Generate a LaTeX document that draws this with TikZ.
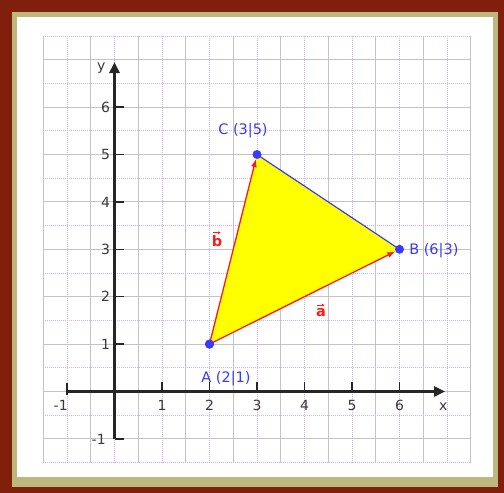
\documentclass[tikz,border=0pt]{standalone}
\usepackage{fontspec}
\setmainfont{DejaVu Sans}
\usetikzlibrary{arrows.meta}
\definecolor{frameBrown}{HTML}{80200C}
\definecolor{frameKhaki}{HTML}{BDB97E}
\definecolor{gridGray}{HTML}{C4C4C4}
\definecolor{gridDot}{HTML}{D0B4E4}
\definecolor{ptBlue}{HTML}{3A3AFF}
\definecolor{vecRed}{HTML}{FF1A1A}
\definecolor{triYellow}{HTML}{FFFF00}
\definecolor{lblGray}{HTML}{3A3A3A}
\begin{document}
\begin{tikzpicture}[x=1pt,y=1pt,
  solidgrid/.style={gridGray,line width=1pt},
  dotgrid/.style={gridDot,line width=1pt,dash pattern=on 1pt off 1pt},
  axisline/.style={line width=3.2pt,black!85,-{Triangle[length=11pt,width=10pt]}},
  tickline/.style={line width=1.3pt,black!85},
  ticklbl/.style={text=lblGray,font=\fontsize{14}{16}\selectfont,inner sep=1pt},
  ptlbl/.style={text=ptBlue,font=\fontsize{14.5}{17}\selectfont,inner sep=1pt},
  veclbl/.style={text=vecRed,font=\fontsize{14.5}{17}\selectfont\bfseries,inner sep=0pt},
  vecarrow/.style={vecRed,line width=1.3pt,-{Latex[length=8pt,width=6pt]}},
  smallarrow/.style={vecRed,line width=0.9pt,-{Latex[length=3pt,width=3pt]}},
  ptdot/.style={circle,fill=ptBlue,inner sep=0pt,minimum size=9pt}
]
\useasboundingbox (0,0) rectangle (504,-493);
\fill[frameBrown] (0,0) rectangle (504,-493);
\fill[frameKhaki] (12,-12) rectangle (498,-487);
\fill[white] (17,-17) rectangle (493,-477);
\begin{scope}[shift={(114.5pt,-391.5pt)},x=47.5pt,y=47.4pt]
  % grid
  \foreach \i in {-1,...,7} \draw[dotgrid] (\i,-1.5) -- (\i,7.5);
  \foreach \j in {-1.5,-0.5,...,7.5} \draw[dotgrid] (-1.5,\j) -- (7.5,\j);
  \foreach \i in {-1.5,-0.5,...,7.5} \draw[solidgrid] (\i,-1.5) -- (\i,7.5);
  \foreach \j in {-1,...,7} \draw[solidgrid] (-1.5,\j) -- (7.5,\j);
  % axes
  \coordinate (xs) at (-1,0);
  \coordinate (xe) at (6.96,0);
  \coordinate (ys) at (0,-1);
  \coordinate (ye) at (0,6.95);
  \draw[axisline] (xs) -- (xe);
  \draw[axisline] (ys) -- (ye);
  \foreach \i in {1,...,6} {
    \draw[tickline] (\i,0) -- (\i,0.2);
    \node[ticklbl,anchor=north] (tx\i) at (\i,-0.15) {\i};
  }
  \draw[tickline] (-1,-0.07) -- (-1,0.18);
  \node[ticklbl,anchor=north east] (txm) at (-0.96,-0.15) {-1};
  \foreach \j in {1,...,6} {
    \draw[tickline] (0,\j) -- (0.21,\j);
    \node[ticklbl,anchor=east] (ty\j) at (-0.07,\j) {\j};
  }
  \draw[tickline] (0,-1) -- (0.21,-1);
  \node[ticklbl,anchor=east] (tym) at (-0.16,-1) {-1};
  \node[ticklbl] (xlbl) at (6.92,-0.33) {x};
  \node[ticklbl] (ylbl) at (-0.28,6.82) {y};
  % triangle
  \coordinate (pA) at (2,1);
  \coordinate (pB) at (6,3);
  \coordinate (pC) at (3,5);
  \fill[triYellow] (pA) -- (pB) -- (pC) -- cycle;
  \node[ptdot] (A) at (pA) {};
  \node[ptdot] (B) at (pB) {};
  \node[ptdot] (C) at (pC) {};
  \draw[ptBlue,line width=1.2pt] (C.center) -- (B.center);
  \draw[vecarrow] (A.center) -- (B);
  \draw[vecarrow] (A.center) -- (C);
  \node[ptdot] at (pA) {};
  % labels
  \node[ptlbl] (lC) at (2.705,5.496) {C (3|5)};
  \node[ptlbl,anchor=west] (lB) at (6.18,2.964) {B (6|3)};
  \node[ptlbl] (lA) at (2.347,0.269) {A (2|1)};
  \node[veclbl] (lb) at (2.158,3.175) {b};
  \draw[smallarrow] ([xshift=-4pt,yshift=2.5pt]lb.north) -- ++(8pt,0);
  \node[veclbl] (la) at (4.347,1.667) {a};
  \draw[smallarrow] ([xshift=-4pt,yshift=3pt]la.north) -- ++(8pt,0);
\end{scope}
\end{tikzpicture}
\end{document}
